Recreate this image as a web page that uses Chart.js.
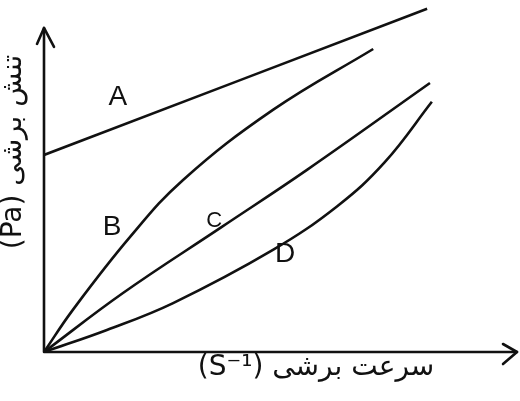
<!DOCTYPE html>
<html>
<head>
<meta charset="utf-8">
<script src="https://cdn.jsdelivr.net/npm/chart.js@4"></script>
<style>
html,body{margin:0;padding:0;background:#fff;}
#wrap{width:520px;height:401px;}
</style>
</head>
<body>
<div id="wrap"><canvas id="c" width="520" height="401"></canvas></div>
<script>
// ---- data (abstract units, axes run 0..100) ----
const seriesNames = ['A', 'B', 'C', 'D'];
const aX = [0, 81.0];
const aY = [60.8, 105.9];
const bX = [0, 6.1, 18.2, 29.4, 48.4, 69.6];
const bY = [0, 13.0, 35.5, 53.1, 74.7, 93.5];
const cX = [0, 16.7, 37.6, 55.6, 81.6];
const cY = [0, 18.2, 38.6, 56.2, 83.0];
const dX = [0, 13.3, 27.3, 48.4, 62.0, 72.0, 82.0];
const dY = [0, 6.8, 15.1, 31.5, 45.0, 58.5, 77.2];
const xTitle = 'سرعت برشی (S⁻¹)';
const yTitle = 'تنش برشی (Pa)';
// label anchors (data units)
const labelX = [15.6, 14.4, 36.0, 51.0];
const labelY = [78.6, 38.5, 40.3, 30.1];

function pts(xs, ys){ return xs.map((x,i)=>({x:x, y:ys[i]})); }

const ds = [[aX,aY],[bX,bY],[cX,cY],[dX,dY]].map((p,i)=>({
  label: seriesNames[i],
  data: pts(p[0], p[1]),
  borderColor: '#111',
  borderWidth: 2.6,
  pointRadius: 0,
  fill: false,
  tension: 0.4
}));

const axesPlugin = {
  id: 'axesPlugin',
  afterDraw(chart){
    const ctx = chart.ctx, xs = chart.scales.x, ys = chart.scales.y;
    const x0 = xs.getPixelForValue(0), y0 = ys.getPixelForValue(0);
    const xEnd = xs.getPixelForValue(100), yEnd = ys.getPixelForValue(100);
    ctx.save();
    ctx.strokeStyle = '#111';
    ctx.lineWidth = 2.6;
    ctx.lineCap = 'round';
    ctx.lineJoin = 'round';
    // axes
    ctx.beginPath();
    ctx.moveTo(x0, y0); ctx.lineTo(x0, yEnd);
    ctx.moveTo(x0, y0); ctx.lineTo(xEnd, y0);
    ctx.stroke();
    // arrowheads
    ctx.beginPath();
    ctx.moveTo(x0 - 7, yEnd + 16); ctx.lineTo(x0, yEnd); ctx.lineTo(x0 + 10, yEnd + 19);
    ctx.moveTo(xEnd - 14, y0 - 8); ctx.lineTo(xEnd, y0); ctx.lineTo(xEnd - 14, y0 + 12);
    ctx.stroke();
    // series labels
    ctx.fillStyle = '#111';
    ctx.textAlign = 'center';
    ctx.textBaseline = 'middle';
    seriesNames.forEach((n,i)=>{
      ctx.font = (n === 'C' ? '22px' : '28px') + ' "Liberation Sans", "DejaVu Sans", sans-serif';
      ctx.fillText(n, xs.getPixelForValue(labelX[i]), ys.getPixelForValue(labelY[i]));
    });
    // axis titles
    ctx.direction = 'rtl';
    ctx.font = '28px "DejaVu Sans", sans-serif';
    ctx.textAlign = 'center';
    ctx.fillText(xTitle, 316, 368);
    ctx.translate(14, 152);
    ctx.rotate(-Math.PI/2);
    ctx.fillText(yTitle, 0, 0);
    ctx.restore();
  }
};

new Chart(document.getElementById('c'), {
  type: 'line',
  data: { datasets: ds },
  options: {
    responsive: false,
    animation: false,
    layout: { padding: { left: 44, right: 3, top: 2, bottom: 49 } },
    plugins: { legend: { display: false }, tooltip: { enabled: false } },
    scales: {
      x: { type: 'linear', min: 0, max: 100, display: false },
      y: { type: 'linear', min: 0, max: 108, display: false }
    }
  },
  plugins: [axesPlugin]
});
</script>
</body>
</html>
